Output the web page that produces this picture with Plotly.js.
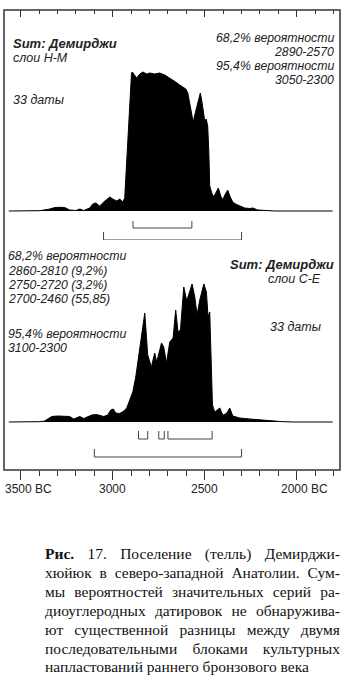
<!DOCTYPE html>
<html><head><meta charset="utf-8">
<script src="https://cdn.plot.ly/plotly-3.0.1.min.js"></script>
<style>
html,body{margin:0;padding:0;background:#fff;}
#wrap{position:relative;width:351px;height:692px;overflow:hidden;}
#chart{position:absolute;left:0;top:0;width:351px;height:692px;}
#cap{position:absolute;left:45px;top:545px;width:295px;font-family:"Liberation Serif","Times New Roman",serif;font-size:15.5px;line-height:18.9px;color:#111;}
#cap div{text-align:justify;text-align-last:justify;}
#cap div.last{text-align:left;text-align-last:left;}
</style></head>
<body><div id="wrap"><div id="chart"></div><div id="cap"></div></div>
<script>
// ---- data (calendar years BC, relative summed probability) ----
const hmYears = [3565,3505,3397,3342,3315,3288,3261,3234,3201,3179,3158,3125,3109,3092,3071,3049,3033,3016,3000,2978,2962,2946,2935,2917,2898,2894,2870,2853,2837,2815,2799,2772,2745,2717,2690,2674,2658,2636,2620,2603,2592,2582,2571,2563,2549,2535,2524,2516,2505,2500,2492,2484,2478,2473,2462,2451,2440,2426,2413,2402,2391,2375,2364,2348,2332,2310,2283,2255,2239,2212,2174,2120,1805];
const hmProb  = [0,0,0.3,2,3.5,3.7,3.5,1,0.5,2,0.5,3,7,8,5,9,11,14,12,10,12,9,13,76,138,139,133,137,139,137,138,137,138,136,133,131,129,126,124,122,118,108,95,89,100,112,118,110,96,90,92,85,60,25,18,14,18,23,15,11,16,21,15,9,7,5,3,2.5,3,1,0.3,0,0];

const ceYears = [3565,3505,3397,3370,3353,3332,3299,3261,3234,3212,3196,3179,3158,3136,3114,3087,3071,3049,3027,3011,2997,2984,2962,2940,2924,2908,2891,2875,2859,2842,2826,2810,2790,2772,2761,2735,2723,2708,2690,2672,2658,2645,2632,2614,2599,2591,2569,2554,2542,2527,2505,2491,2482,2473,2464,2458,2446,2429,2418,2408,2397,2380,2364,2348,2310,2255,2201,2147,2076,2011,1805];
const ceProb  = [0,0,0.3,1,3,5.5,6,6,5.5,3,4,5.5,3.5,5,7,7.5,6.5,5.5,7,12,13,9,8.5,11,14,22,30,45,65,90,109,67,55,69,60,79,75,59,80,84,112,90,92,135,122,125,138,125,107,122,138,130,105,110,64,17,10,12,14,9,7,9,14,6,4,3,2,1,0.3,0,0];

const hm68 = [[2890,2570]];
const hm95 = [[3050,2300]];
const ce68 = [[2860,2810],[2750,2720],[2700,2460]];
const ce95 = [[3100,2300]];

const tickVals = [3500,3000,2500,2000];
const tickText = ['3500 BC','3000','2500','2000 BC'];

const hmLabels = ['Sum: Демирджи','слои Н-М','33 даты'];
const hmStats  = ['68,2% вероятности','2890-2570','95,4% вероятности','3050-2300'];
const ceStats  = ['68,2% вероятности','2860-2810 (9,2%)','2750-2720 (3,2%)','2700-2460 (55,85)','95,4% вероятности','3100-2300'];
const ceLabels = ['Sum: Демирджи','слои С-Е','33 даты'];

const caption = ['Рис. 17. Поселение (телль) Демирджи-','хюйюк в северо-западной Анатолии. Сум-','мы вероятностей значительных серий ра-','диоуглеродных датировок не обнаружива-','ют существенной разницы между двумя','последовательными блоками культурных','напластований раннего бронзового века'];

// ---- layout helpers ----
const FL = 4, FR = 340, FT = 10, FB = 470;
const px = x => (x - FL) / (FR - FL);
const py = y => (FB - y) / (FB - FT);
const sans = 'Liberation Sans, Arial, sans-serif';
const tcol = '#222';

const traces = [
  {x: ceYears, y: ceProb, xaxis:'x', yaxis:'y', type:'scatter', mode:'lines', fill:'tozeroy',
   fillcolor:'#000', line:{color:'#000', width:1}, hoverinfo:'skip'},
  {x: hmYears, y: hmProb, xaxis:'x2', yaxis:'y2', type:'scatter', mode:'lines', fill:'tozeroy',
   fillcolor:'#000', line:{color:'#000', width:1}, hoverinfo:'skip'}
];

function brackets(list, yref, yLine, yTip) {
  return list.map(([a,b]) => ({type:'path', xref:'x', yref:yref,
    path:`M ${a},${yTip} L ${a},${yLine} L ${b},${yLine} L ${b},${yTip}`,
    line:{color:'#444', width:1}}));
}
const shapes = [
  ...brackets(hm68, 'y2', -17, -10),
  ...brackets(hm95, 'y2', -29, -21),
  ...brackets(ce68, 'y', -17, -9),
  ...brackets(ce95, 'y', -35, -27),
  {type:'rect', xref:'paper', yref:'paper', x0:0, x1:1, y0:0, y1:1, line:{color:'#333', width:1.5}}
];

const ann = [];
function txt(t, x, y, anchor, size) {
  ann.push({text:t, xref:'paper', yref:'paper', x:px(x), y:py(y), xanchor:anchor, yanchor:'middle',
    showarrow:false, borderpad:0, font:{family:sans, size:size, color:tcol}});
}
txt('<b><i>'+hmLabels[0]+'</i></b>', 12, 43, 'left', 13);
txt('<i>'+hmLabels[1]+'</i>', 12, 58, 'left', 12.5);
txt('<i>'+hmLabels[2]+'</i>', 12, 100, 'left', 12.5);
[38, 52, 66, 80].forEach((y,i) => txt('<i>'+hmStats[i]+'</i>', 335, y, 'right', 12.3));
[256, 271, 285, 299, 334, 348].forEach((y,i) => txt('<i>'+ceStats[i]+'</i>', 7, y, 'left', 12.3));
txt('<b><i>'+ceLabels[0]+'</i></b>', 335, 264, 'right', 13);
txt('<i>'+ceLabels[1]+'</i>', 322, 279, 'right', 12.5);
txt('<i>'+ceLabels[2]+'</i>', 322, 327, 'right', 12.5);
tickVals.forEach((v,i) => {
  const hasBC = tickText[i].indexOf('BC') >= 0;
  ann.push({text:tickText[i], xref:'x', yref:'paper', x:v, y:py(489), xanchor: hasBC ? 'left':'center',
    xshift: hasBC ? -17 : 0, yanchor:'middle', showarrow:false, borderpad:0, font:{family:sans, size:12, color:tcol}});
});

const xr = [3591, 1765];
const layout = {
  width:351, height:692, margin:{l:FL, r:351-FR, t:FT, b:692-FB},
  paper_bgcolor:'#fff', plot_bgcolor:'#fff', showlegend:false,
  xaxis:{domain:[0,1], range:xr, anchor:'y', showgrid:false, zeroline:false, showline:false,
    tickmode:'array', tickvals:tickVals, showticklabels:false, ticks:'outside', ticklen:9, tickwidth:1.2, tickcolor:'#333',
    minor:{dtick:100, tick0:0, ticks:'outside', ticklen:5, tickwidth:1, tickcolor:'#333'}},
  xaxis2:{domain:[0,1], range:xr, anchor:'y2', side:'top', showgrid:false, zeroline:false, showline:false,
    tickmode:'array', tickvals:tickVals, showticklabels:false, ticks:'inside', ticklen:7, tickwidth:1.2, tickcolor:'#333',
    minor:{dtick:100, tick0:0, ticks:'inside', ticklen:4, tickwidth:1, tickcolor:'#333'}},
  yaxis:{domain:[0,0.5], range:[-48,182], anchor:'x', visible:false, fixedrange:true},
  yaxis2:{domain:[0.5,1], range:[-29,201], anchor:'x2', visible:false, fixedrange:true},
  shapes:shapes, annotations:ann
};
Plotly.newPlot('chart', traces, layout, {staticPlot:true, displayModeBar:false});

const cap = document.getElementById('cap');
caption.forEach((line,i) => {
  const d = document.createElement('div');
  if (i === caption.length-1) d.className = 'last';
  if (i === 0) { d.innerHTML = '<b>Рис.</b>' + line.slice(4); } else { d.textContent = line; }
  cap.appendChild(d);
});
</script></body></html>
